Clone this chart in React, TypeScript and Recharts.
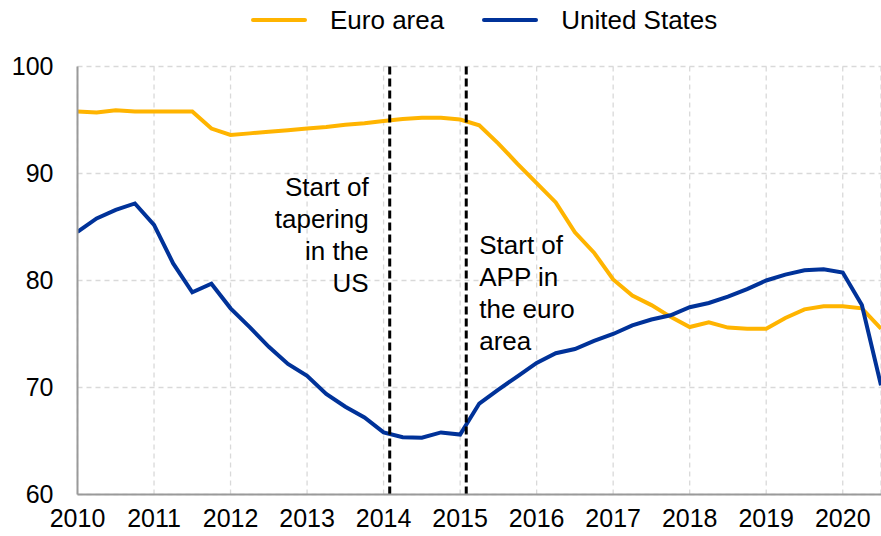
import React from "react";
import {
    LineChart,
    Line,
    CartesianGrid,
    ReferenceLine,
    Legend,
    XAxis,
    YAxis,
} from "recharts";

// quarterly observations, 2010 Q1 – 2020 Q3
const QUARTERS = [
    "2010Q1", "2010Q2", "2010Q3", "2010Q4",
    "2011Q1", "2011Q2", "2011Q3", "2011Q4",
    "2012Q1", "2012Q2", "2012Q3", "2012Q4",
    "2013Q1", "2013Q2", "2013Q3", "2013Q4",
    "2014Q1", "2014Q2", "2014Q3", "2014Q4",
    "2015Q1", "2015Q2", "2015Q3", "2015Q4",
    "2016Q1", "2016Q2", "2016Q3", "2016Q4",
    "2017Q1", "2017Q2", "2017Q3", "2017Q4",
    "2018Q1", "2018Q2", "2018Q3", "2018Q4",
    "2019Q1", "2019Q2", "2019Q3", "2019Q4",
    "2020Q1", "2020Q2", "2020Q3",
];

const EURO_AREA = [
    95.8, 95.7, 95.9, 95.8,
    95.8, 95.8, 95.8, 94.2,
    93.6, 93.75, 93.9, 94.05,
    94.2, 94.35, 94.55, 94.7,
    94.9, 95.1, 95.2, 95.2,
    95.05, 94.5, 92.8, 90.9,
    89.1, 87.3, 84.5, 82.6,
    80.1, 78.6, 77.7, 76.6,
    75.65, 76.1, 75.6, 75.5,
    75.5, 76.5, 77.3, 77.6,
    77.6, 77.4, 75.5,
];

const UNITED_STATES = [
    84.55, 85.8, 86.6, 87.2,
    85.2, 81.6, 78.9, 79.7,
    77.4, 75.65, 73.8, 72.2,
    71.1, 69.4, 68.2, 67.2,
    65.8, 65.35, 65.3, 65.8,
    65.6, 68.5, 69.8, 71.05,
    72.3, 73.2, 73.6, 74.35,
    75.0, 75.8, 76.35, 76.75,
    77.5, 77.9, 78.5, 79.2,
    80.0, 80.55, 80.95, 81.05,
    80.75, 77.7, 70.2,
];

const YEAR_TICKS = [2010, 2011, 2012, 2013, 2014, 2015, 2016, 2017, 2018, 2019, 2020];
const VALUE_TICKS = [60, 70, 80, 90, 100];

const SERIES = [
    { key: "euro", name: "Euro area", color: "#FFB400", values: EURO_AREA },
    { key: "us", name: "United States", color: "#003299", values: UNITED_STATES },
];

const EVENTS = [
    { key: "taper", x: 2014.08, lines: ["Start of", "tapering", "in the", "US"], side: "left" },
    { key: "app", x: 2015.08, lines: ["Start of", "APP in", "the euro", "area"], side: "right" },
];

const FONT = '"Liberation Sans", Arial, sans-serif';

const toYear = (q: string) => Number(q.slice(0, 4)) + (Number(q.slice(5)) - 1) / 4;

const data = QUARTERS.map((q, i) => {
    const row: Record<string, number> = { t: toYear(q) };
    SERIES.forEach((s) => {
        row[s.key] = s.values[i];
    });
    return row;
});

function LegendContent() {
    return (
        <div
            style={{
                display: "flex",
                alignItems: "center",
                height: 40,
                paddingLeft: 251,
                fontFamily: FONT,
                fontSize: 26,
                color: "#000",
            }}
        >
            {SERIES.map((s, i) => (
                <div
                    key={s.key}
                    style={{ display: "flex", alignItems: "center", marginRight: i === 0 ? 38 : 0 }}
                >
                    <span
                        style={{
                            display: "inline-block",
                            width: 56,
                            height: 4,
                            borderRadius: 2,
                            background: s.color,
                            marginRight: 23,
                        }}
                    />
                    <span>{s.name}</span>
                </div>
            ))}
        </div>
    );
}

function EventLabel({ viewBox, lines, side }: any) {
    if (!viewBox) return null;
    const left = side === "left";
    const x = left ? viewBox.x - 21 : viewBox.x + 13;
    const y0 = viewBox.y + (left ? 129.5 : 187.5);
    return (
        <text
            x={x}
            y={y0}
            textAnchor={left ? "end" : "start"}
            fontFamily={FONT}
            fontSize={26}
            fill="#000"
        >
            {lines.map((l: string, i: number) => (
                <tspan key={i} x={x} y={y0 + i * 32}>
                    {l}
                </tspan>
            ))}
        </text>
    );
}

export default function App() {
    return (
        <div style={{ position: "absolute", left: 0, top: 0, width: 881, height: 536, background: "#fff" }}>
            <LineChart
                width={881}
                height={536}
                data={data}
                margin={{ top: 26.5, right: 0, left: 0, bottom: 0 }}
            >
                <CartesianGrid stroke="#d9d9d9" strokeDasharray="5 4" strokeWidth={1.3} />
                <XAxis
                    dataKey="t"
                    type="number"
                    domain={[2010, 2020.5]}
                    ticks={YEAR_TICKS}
                    allowDataOverflow
                    tickLine={false}
                    tickSize={0}
                    tickMargin={15}
                    height={41.5}
                    axisLine={{ stroke: "#9a9a9a", strokeWidth: 2 }}
                    tick={{ fill: "#000", fontSize: 25, fontFamily: FONT }}
                />
                <YAxis
                    type="number"
                    domain={[60, 100]}
                    ticks={VALUE_TICKS}
                    width={77.5}
                    tickLine={false}
                    tickSize={0}
                    tickMargin={24}
                    axisLine={{ stroke: "#9a9a9a", strokeWidth: 2 }}
                    tick={{ fill: "#000", fontSize: 25, fontFamily: FONT }}
                />
                <Legend verticalAlign="top" wrapperStyle={{ left: 0, top: 0, width: 881 }} content={<LegendContent />} />
                {SERIES.map((s) => (
                    <Line
                        key={s.key}
                        dataKey={s.key}
                        name={s.name}
                        type="linear"
                        stroke={s.color}
                        strokeWidth={4}
                        dot={false}
                        isAnimationActive={false}
                    />
                ))}
                {EVENTS.map((e) => (
                    <ReferenceLine
                        key={e.key}
                        x={e.x}
                        stroke="#000"
                        strokeWidth={3}
                        strokeDasharray="8 4"
                        label={<EventLabel lines={e.lines} side={e.side} />}
                    />
                ))}
            </LineChart>
        </div>
    );
}
